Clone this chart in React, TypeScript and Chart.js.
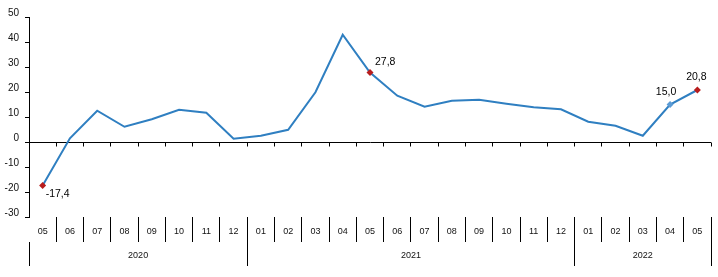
import React, { useEffect, useRef } from "react";
import { Chart, registerables } from "chart.js";

Chart.register(...registerables);

const months = ["05", "06", "07", "08", "09", "10", "11", "12", "01", "02", "03", "04", "05", "06", "07", "08", "09", "10", "11", "12", "01", "02", "03", "04", "05"];
const years = ["2020", "2021", "2022"];
const yearSpans = [8, 12, 5];
const values = [-17.4, 1.5, 12.5, 6.1, 9.1, 12.9, 11.7, 1.3, 2.5, 4.9, 19.9, 42.9, 27.8, 18.5, 14.1, 16.5, 16.9, 15.3, 13.9, 13.1, 8.1, 6.5, 2.5, 15.0, 20.8];
const redPoints = [0, 12, 24];
const bluePoints = [23];
const labeledPoints = [0, 12, 23, 24];
const yMin = -30;
const yMax = 50;
const yStep = 10;

const LINE = "#2F7FC1";
const RED = "#B81D1D";
const LIGHTBLUE = "#5B9BD5";

// label placement (dx, dy, align) per labeled point
const labelPlacement: Record<number, [number, number, CanvasTextAlign]> = {
  0: [3, 9, "left"],
  12: [5, -10, "left"],
  23: [-4, -12.5, "center"],
  24: [-1, -13, "center"],
};

const align = (p: number) => Math.round(p - 0.5) + 0.5;

const extrasPlugin = {
  id: "extras",
  afterDraw(chart: any) {
    const { ctx, chartArea, scales } = chart;
    const x = scales.x;
    const y = scales.y;
    const n = months.length;
    const bx = (i: number) => align(x.getPixelForValue(i - 0.5));
    ctx.save();
    ctx.strokeStyle = "#000";
    ctx.lineWidth = 1;
    // small ticks under zero line
    const y0 = align(y.getPixelForValue(0));
    ctx.beginPath();
    for (let i = 1; i <= n; i++) {
      ctx.moveTo(bx(i), y0);
      ctx.lineTo(bx(i), y0 + 4);
    }
    ctx.stroke();
    // year row
    const top = chartArea.bottom + 25;
    const bottom = chartArea.bottom + 49;
    const bounds = [0];
    yearSpans.forEach((s, k) => bounds.push(bounds[k] + s));
    ctx.beginPath();
    bounds.forEach((b) => {
      ctx.moveTo(bx(b), top);
      ctx.lineTo(bx(b), bottom);
    });
    ctx.stroke();
    ctx.fillStyle = "#111";
    ctx.font = "9px Arial, 'Liberation Sans', sans-serif";
    ctx.textAlign = "center";
    ctx.textBaseline = "middle";
    years.forEach((yr, k) => {
      const cx = (x.getPixelForValue(bounds[k] - 0.5) + x.getPixelForValue(bounds[k + 1] - 0.5)) / 2;
      ctx.fillText(yr, cx, chartArea.bottom + 39);
    });
    // data labels
    const meta = chart.getDatasetMeta(0);
    ctx.fillStyle = "#000";
    ctx.font = "10.5px Arial, 'Liberation Sans', sans-serif";
    labeledPoints.forEach((i) => {
      const pt = meta.data[i];
      const [dx, dy, al] = labelPlacement[i];
      ctx.textAlign = al;
      ctx.fillText(values[i].toFixed(1).replace(".", ","), pt.x + dx, pt.y + dy);
    });
    ctx.restore();
  },
};

export default function App() {
  const ref = useRef<HTMLCanvasElement>(null);
  useEffect(() => {
    if (!ref.current) return;
    const chart = new Chart(ref.current, {
      type: "line",
      data: {
        labels: months,
        datasets: [
          {
            data: values,
            borderColor: LINE,
            borderWidth: 2,
            tension: 0,
            pointStyle: "rectRot",
            pointRadius: values.map((_, i) => (redPoints.includes(i) || bluePoints.includes(i) ? 3.5 : 0)),
            pointBackgroundColor: values.map((_, i) => (redPoints.includes(i) ? RED : LIGHTBLUE)),
            pointBorderColor: values.map((_, i) => (redPoints.includes(i) ? RED : LIGHTBLUE)),
            pointBorderWidth: 0,
          },
        ],
      },
      options: {
        animation: false,
        responsive: false,
        devicePixelRatio: 1,
        layout: { padding: { top: 17, right: 7, left: 0, bottom: 0 } },
        plugins: { legend: { display: false }, tooltip: { enabled: false } },
        scales: {
          x: {
            type: "category",
            offset: true,
            afterFit: (s: any) => {
              s.height = 60;
            },
            border: { display: false },
            grid: {
              offset: true,
              drawOnChartArea: false,
              drawTicks: true,
              tickLength: 25,
              color: (c: any) => (c.index === 0 ? "rgba(0,0,0,0)" : "#000"),
              lineWidth: 1,
            },
            ticks: {
              padding: -16,
              maxRotation: 0,
              autoSkip: false,
              color: "#111",
              font: { family: "Arial, 'Liberation Sans', sans-serif", size: 9 },
            },
          },
          y: {
            min: yMin,
            max: yMax,
            afterFit: (s: any) => {
              s.width = 29;
            },
            border: { display: true, color: "#000", width: 1 },
            grid: {
              drawOnChartArea: true,
              drawTicks: true,
              tickLength: 4,
              color: (c: any) => (c.tick && c.tick.value === 0 ? "#000" : "rgba(0,0,0,0)"),
              tickColor: "#000",
            },
            ticks: {
              stepSize: yStep,
              padding: 6,
              labelOffset: -4,
              color: "#111",
              font: { family: "Arial, 'Liberation Sans', sans-serif", size: 10 },
            },
          },
        },
      },
      plugins: [extrasPlugin],
    });
    return () => chart.destroy();
  }, []);
  return (
    <div style={{ position: "absolute", left: 0, top: 0, width: 718, height: 277 }}>
      <canvas ref={ref} width={718} height={277} />
    </div>
  );
}
